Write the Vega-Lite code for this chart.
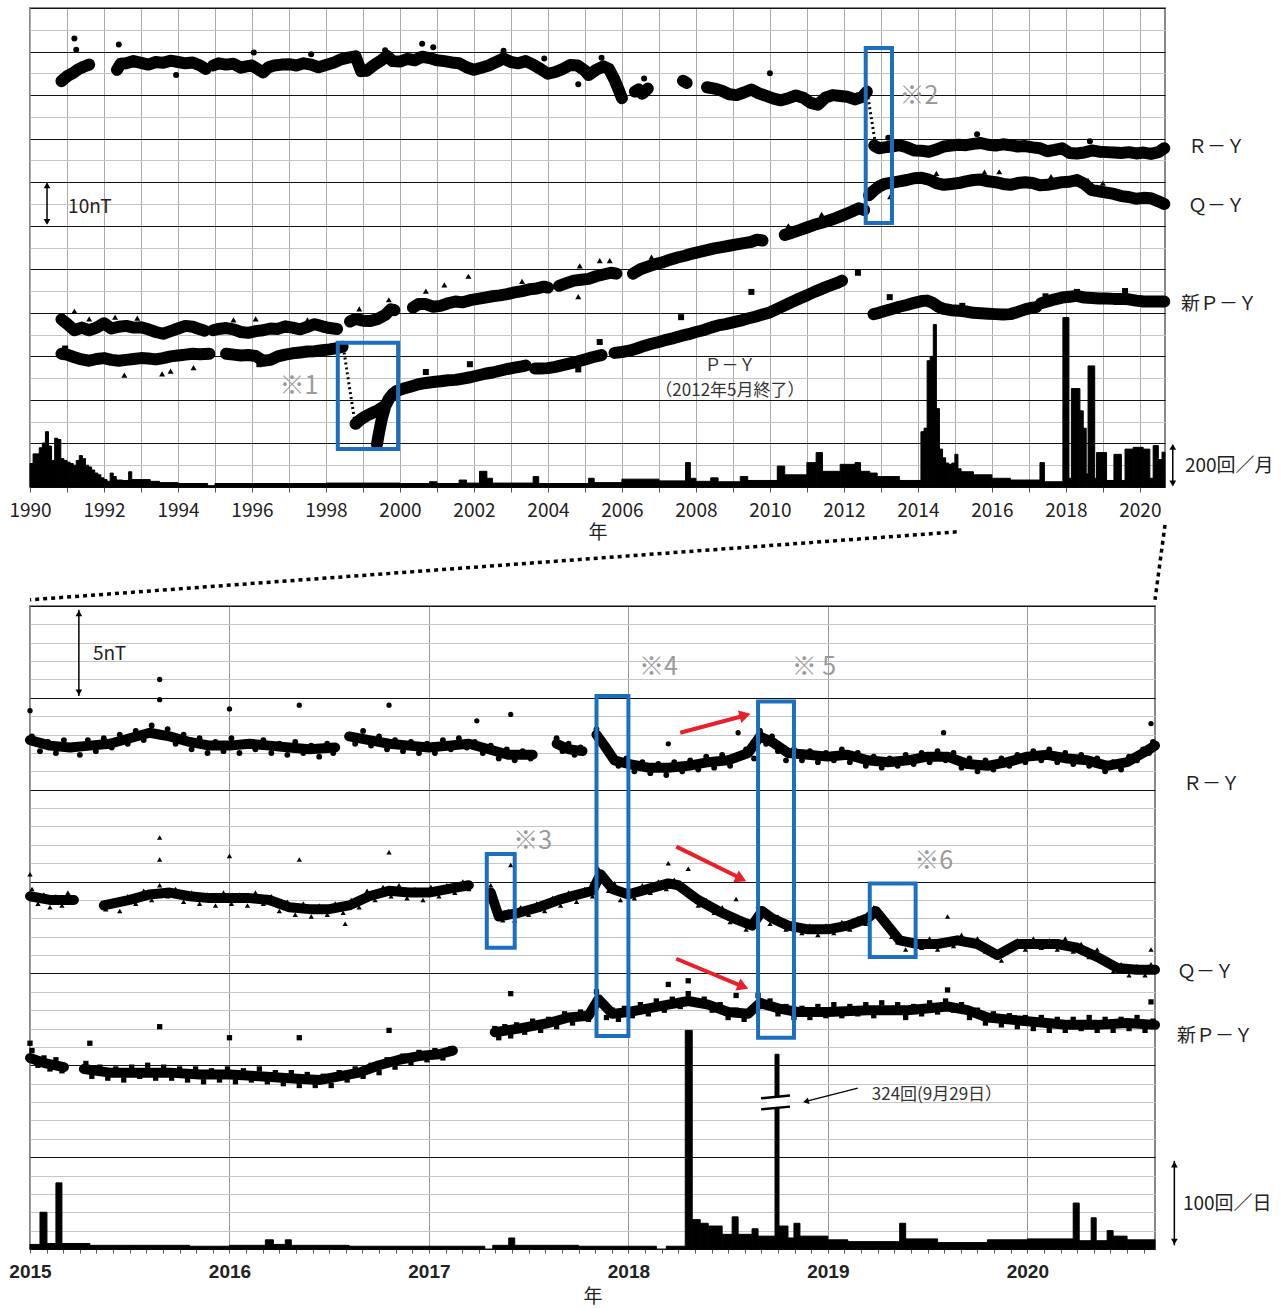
{
"$schema": "https://vega.github.io/schema/vega-lite/v6.json",
"background": "white",
"padding": {"left": 7, "top": 7, "right": 5, "bottom": 5},
"spacing": 2,
"config": {"view": {"stroke": "#888888", "strokeWidth": 2}, "font": "Noto Sans CJK JP", "axis": {"domain": false}},
"datasets": {
"tL": [
{"g":"R1","x":1990.85,"y":93.2},{"g":"R1","x":1991.0,"y":94.3},{"g":"R1","x":1991.15,"y":95.0},{"g":"R1","x":1991.3,"y":95.9},{"g":"R1","x":1991.45,"y":96.5},{"g":"R1","x":1991.6,"y":97.0},
{"g":"R2","x":1992.35,"y":95.8},{"g":"R2","x":1992.45,"y":97.2},{"g":"R2","x":1992.6,"y":97.3},{"g":"R2","x":1992.8,"y":97.8},{"g":"R2","x":1993.0,"y":97.4},{"g":"R2","x":1993.2,"y":97.0},{"g":"R2","x":1993.4,"y":97.6},{"g":"R2","x":1993.6,"y":97.4},{"g":"R2","x":1993.8,"y":97.9},{"g":"R2","x":1994.0,"y":97.6},{"g":"R2","x":1994.2,"y":97.3},{"g":"R2","x":1994.4,"y":97.5},{"g":"R2","x":1994.6,"y":96.8},{"g":"R2","x":1994.75,"y":96.0},
{"g":"R3","x":1994.95,"y":96.8},{"g":"R3","x":1995.1,"y":97.3},{"g":"R3","x":1995.3,"y":97.0},{"g":"R3","x":1995.5,"y":97.2},{"g":"R3","x":1995.7,"y":96.3},{"g":"R3","x":1995.85,"y":96.6},{"g":"R3","x":1996.0,"y":96.8},{"g":"R3","x":1996.15,"y":96.0},{"g":"R3","x":1996.3,"y":95.2},{"g":"R3","x":1996.45,"y":96.4},{"g":"R3","x":1996.6,"y":96.8},{"g":"R3","x":1996.8,"y":97.0},{"g":"R3","x":1997.0,"y":97.1},{"g":"R3","x":1997.2,"y":96.8},{"g":"R3","x":1997.4,"y":97.3},{"g":"R3","x":1997.6,"y":97.0},{"g":"R3","x":1997.8,"y":96.4},{"g":"R3","x":1998.0,"y":96.9},{"g":"R3","x":1998.2,"y":97.4},{"g":"R3","x":1998.4,"y":98.2},{"g":"R3","x":1998.6,"y":98.6},{"g":"R3","x":1998.8,"y":98.9},{"g":"R3","x":1998.95,"y":95.5},{"g":"R3","x":1999.1,"y":95.6},{"g":"R3","x":1999.3,"y":96.9},{"g":"R3","x":1999.5,"y":98.0},{"g":"R3","x":1999.65,"y":99.0},{"g":"R3","x":1999.8,"y":97.8},{"g":"R3","x":2000.0,"y":97.7},{"g":"R3","x":2000.2,"y":98.3},{"g":"R3","x":2000.4,"y":98.0},{"g":"R3","x":2000.6,"y":98.8},{"g":"R3","x":2000.8,"y":98.5},{"g":"R3","x":2001.0,"y":98.0},{"g":"R3","x":2001.2,"y":97.8},{"g":"R3","x":2001.4,"y":97.5},{"g":"R3","x":2001.6,"y":97.3},{"g":"R3","x":2001.8,"y":96.4},{"g":"R3","x":2002.0,"y":95.8},{"g":"R3","x":2002.2,"y":96.3},{"g":"R3","x":2002.4,"y":96.8},{"g":"R3","x":2002.6,"y":97.6},{"g":"R3","x":2002.8,"y":98.4},{"g":"R3","x":2003.0,"y":97.6},{"g":"R3","x":2003.2,"y":97.3},{"g":"R3","x":2003.4,"y":97.8},{"g":"R3","x":2003.6,"y":97.0},{"g":"R3","x":2003.8,"y":96.0},{"g":"R3","x":2004.0,"y":94.9},{"g":"R3","x":2004.2,"y":95.3},{"g":"R3","x":2004.4,"y":96.0},{"g":"R3","x":2004.6,"y":96.9},{"g":"R3","x":2004.8,"y":96.8},{"g":"R3","x":2005.0,"y":95.6},{"g":"R3","x":2005.1,"y":94.6},{"g":"R3","x":2005.3,"y":95.8},{"g":"R3","x":2005.5,"y":96.6},{"g":"R3","x":2005.65,"y":96.0},{"g":"R3","x":2005.8,"y":93.5},{"g":"R3","x":2005.9,"y":91.5},{"g":"R3","x":2006.0,"y":89.3},
{"g":"R4","x":2006.35,"y":90.8},{"g":"R4","x":2006.45,"y":91.3},{"g":"R4","x":2006.55,"y":90.3},{"g":"R4","x":2006.7,"y":91.5},
{"g":"R5","x":2007.65,"y":93.3},{"g":"R5","x":2007.75,"y":92.8},
{"g":"R6","x":2008.3,"y":91.8},{"g":"R6","x":2008.5,"y":91.5},{"g":"R6","x":2008.7,"y":91.0},{"g":"R6","x":2008.9,"y":90.2},{"g":"R6","x":2009.1,"y":90.0},{"g":"R6","x":2009.3,"y":90.6},{"g":"R6","x":2009.5,"y":91.3},{"g":"R6","x":2009.7,"y":90.4},{"g":"R6","x":2009.9,"y":89.8},{"g":"R6","x":2010.1,"y":89.2},{"g":"R6","x":2010.3,"y":88.8},{"g":"R6","x":2010.5,"y":89.3},{"g":"R6","x":2010.7,"y":89.9},{"g":"R6","x":2010.9,"y":89.4},{"g":"R6","x":2011.1,"y":88.2},{"g":"R6","x":2011.3,"y":87.8},{"g":"R6","x":2011.5,"y":89.4},{"g":"R6","x":2011.7,"y":90.0},{"g":"R6","x":2011.9,"y":89.8},{"g":"R6","x":2012.1,"y":89.6},{"g":"R6","x":2012.3,"y":89.0},{"g":"R6","x":2012.5,"y":89.6},{"g":"R6","x":2012.62,"y":90.8},
{"g":"R7","x":2012.82,"y":78.4},{"g":"R7","x":2012.95,"y":77.8},{"g":"R7","x":2013.1,"y":78.0},{"g":"R7","x":2013.3,"y":78.2},{"g":"R7","x":2013.5,"y":78.5},{"g":"R7","x":2013.7,"y":78.0},{"g":"R7","x":2013.9,"y":77.3},{"g":"R7","x":2014.1,"y":77.2},{"g":"R7","x":2014.3,"y":77.0},{"g":"R7","x":2014.5,"y":77.5},{"g":"R7","x":2014.7,"y":78.2},{"g":"R7","x":2014.9,"y":78.4},{"g":"R7","x":2015.1,"y":78.6},{"g":"R7","x":2015.3,"y":78.5},{"g":"R7","x":2015.5,"y":78.8},{"g":"R7","x":2015.7,"y":79.0},{"g":"R7","x":2015.9,"y":78.6},{"g":"R7","x":2016.1,"y":78.4},{"g":"R7","x":2016.3,"y":78.7},{"g":"R7","x":2016.5,"y":78.5},{"g":"R7","x":2016.7,"y":78.2},{"g":"R7","x":2016.9,"y":78.3},{"g":"R7","x":2017.1,"y":78.0},{"g":"R7","x":2017.3,"y":77.8},{"g":"R7","x":2017.5,"y":77.1},{"g":"R7","x":2017.7,"y":77.4},{"g":"R7","x":2017.9,"y":77.8},{"g":"R7","x":2018.1,"y":76.7},{"g":"R7","x":2018.3,"y":76.6},{"g":"R7","x":2018.5,"y":76.8},{"g":"R7","x":2018.7,"y":77.3},{"g":"R7","x":2018.9,"y":77.0},{"g":"R7","x":2019.1,"y":76.9},{"g":"R7","x":2019.3,"y":76.8},{"g":"R7","x":2019.5,"y":76.7},{"g":"R7","x":2019.7,"y":76.9},{"g":"R7","x":2019.9,"y":76.6},{"g":"R7","x":2020.1,"y":76.8},{"g":"R7","x":2020.3,"y":76.5},{"g":"R7","x":2020.5,"y":76.9},{"g":"R7","x":2020.66,"y":77.8},
{"g":"Q1","x":1990.85,"y":38.5},{"g":"Q1","x":1991.0,"y":37.5},{"g":"Q1","x":1991.2,"y":36.0},{"g":"Q1","x":1991.4,"y":36.6},{"g":"Q1","x":1991.6,"y":36.0},{"g":"Q1","x":1991.8,"y":36.6},{"g":"Q1","x":1992.0,"y":37.6},{"g":"Q1","x":1992.2,"y":36.4},{"g":"Q1","x":1992.4,"y":36.8},{"g":"Q1","x":1992.6,"y":37.0},{"g":"Q1","x":1992.8,"y":36.6},{"g":"Q1","x":1993.0,"y":36.7},{"g":"Q1","x":1993.2,"y":36.2},{"g":"Q1","x":1993.4,"y":35.6},{"g":"Q1","x":1993.6,"y":35.2},{"g":"Q1","x":1993.8,"y":35.8},{"g":"Q1","x":1994.0,"y":36.4},{"g":"Q1","x":1994.2,"y":37.0},{"g":"Q1","x":1994.4,"y":36.8},{"g":"Q1","x":1994.6,"y":36.2},{"g":"Q1","x":1994.72,"y":35.9},
{"g":"Q2","x":1994.95,"y":36.0},{"g":"Q2","x":1995.1,"y":36.3},{"g":"Q2","x":1995.3,"y":36.5},{"g":"Q2","x":1995.5,"y":36.2},{"g":"Q2","x":1995.7,"y":35.6},{"g":"Q2","x":1995.9,"y":35.4},{"g":"Q2","x":1996.1,"y":35.8},{"g":"Q2","x":1996.3,"y":36.0},{"g":"Q2","x":1996.5,"y":36.4},{"g":"Q2","x":1996.7,"y":36.3},{"g":"Q2","x":1996.9,"y":36.9},{"g":"Q2","x":1997.1,"y":36.6},{"g":"Q2","x":1997.3,"y":36.2},{"g":"Q2","x":1997.5,"y":36.8},{"g":"Q2","x":1997.7,"y":37.4},{"g":"Q2","x":1997.9,"y":36.9},{"g":"Q2","x":1998.1,"y":36.5},{"g":"Q2","x":1998.3,"y":36.3},
{"g":"Q3","x":1998.65,"y":38.0},{"g":"Q3","x":1998.8,"y":38.6},{"g":"Q3","x":1999.0,"y":38.2},{"g":"Q3","x":1999.2,"y":38.1},{"g":"Q3","x":1999.4,"y":38.6},{"g":"Q3","x":1999.6,"y":39.5},{"g":"Q3","x":1999.75,"y":40.8},{"g":"Q3","x":1999.85,"y":40.6},
{"g":"Q4","x":2000.35,"y":41.2},{"g":"Q4","x":2000.5,"y":42.0},{"g":"Q4","x":2000.7,"y":42.0},{"g":"Q4","x":2000.9,"y":41.4},{"g":"Q4","x":2001.1,"y":41.6},{"g":"Q4","x":2001.3,"y":42.2},{"g":"Q4","x":2001.5,"y":42.6},{"g":"Q4","x":2001.7,"y":42.4},{"g":"Q4","x":2001.9,"y":42.9},{"g":"Q4","x":2002.1,"y":43.2},{"g":"Q4","x":2002.3,"y":43.5},{"g":"Q4","x":2002.5,"y":43.8},{"g":"Q4","x":2002.7,"y":44.0},{"g":"Q4","x":2002.9,"y":44.3},{"g":"Q4","x":2003.1,"y":44.7},{"g":"Q4","x":2003.3,"y":45.0},{"g":"Q4","x":2003.5,"y":45.4},{"g":"Q4","x":2003.7,"y":45.6},{"g":"Q4","x":2003.9,"y":46.0},{"g":"Q4","x":2004.0,"y":45.8},
{"g":"Q5","x":2004.3,"y":46.2},{"g":"Q5","x":2004.5,"y":46.8},{"g":"Q5","x":2004.7,"y":47.4},{"g":"Q5","x":2004.9,"y":47.6},{"g":"Q5","x":2005.1,"y":47.8},{"g":"Q5","x":2005.3,"y":48.4},{"g":"Q5","x":2005.5,"y":48.8},{"g":"Q5","x":2005.7,"y":49.2},{"g":"Q5","x":2005.85,"y":49.0},
{"g":"Q6","x":2006.3,"y":49.0},{"g":"Q6","x":2006.5,"y":50.0},{"g":"Q6","x":2006.7,"y":50.6},{"g":"Q6","x":2006.9,"y":51.2},{"g":"Q6","x":2007.1,"y":51.6},{"g":"Q6","x":2007.3,"y":52.2},{"g":"Q6","x":2007.5,"y":52.7},{"g":"Q6","x":2007.7,"y":53.1},{"g":"Q6","x":2007.9,"y":53.6},{"g":"Q6","x":2008.1,"y":54.0},{"g":"Q6","x":2008.3,"y":54.4},{"g":"Q6","x":2008.5,"y":54.8},{"g":"Q6","x":2008.7,"y":55.1},{"g":"Q6","x":2008.9,"y":55.4},{"g":"Q6","x":2009.1,"y":55.7},{"g":"Q6","x":2009.3,"y":56.0},{"g":"Q6","x":2009.5,"y":56.3},{"g":"Q6","x":2009.65,"y":56.8},{"g":"Q6","x":2009.8,"y":56.6},
{"g":"Q7","x":2010.4,"y":57.9},{"g":"Q7","x":2010.6,"y":58.4},{"g":"Q7","x":2010.8,"y":59.0},{"g":"Q7","x":2011.0,"y":59.6},{"g":"Q7","x":2011.2,"y":60.2},{"g":"Q7","x":2011.4,"y":60.7},{"g":"Q7","x":2011.6,"y":61.2},{"g":"Q7","x":2011.8,"y":61.8},{"g":"Q7","x":2012.0,"y":62.5},{"g":"Q7","x":2012.2,"y":63.2},{"g":"Q7","x":2012.4,"y":64.0},{"g":"Q7","x":2012.55,"y":63.6},
{"g":"Q8","x":2012.68,"y":67.0},{"g":"Q8","x":2012.8,"y":68.0},{"g":"Q8","x":2012.95,"y":69.0},{"g":"Q8","x":2013.1,"y":69.6},{"g":"Q8","x":2013.3,"y":69.9},{"g":"Q8","x":2013.5,"y":70.2},{"g":"Q8","x":2013.7,"y":70.5},{"g":"Q8","x":2013.9,"y":70.9},{"g":"Q8","x":2014.1,"y":71.0},{"g":"Q8","x":2014.3,"y":70.6},{"g":"Q8","x":2014.5,"y":69.8},{"g":"Q8","x":2014.7,"y":69.4},{"g":"Q8","x":2014.9,"y":69.6},{"g":"Q8","x":2015.1,"y":69.8},{"g":"Q8","x":2015.3,"y":70.2},{"g":"Q8","x":2015.5,"y":70.5},{"g":"Q8","x":2015.7,"y":70.6},{"g":"Q8","x":2015.9,"y":70.2},{"g":"Q8","x":2016.1,"y":70.0},{"g":"Q8","x":2016.3,"y":69.6},{"g":"Q8","x":2016.5,"y":69.4},{"g":"Q8","x":2016.7,"y":69.8},{"g":"Q8","x":2016.9,"y":70.0},{"g":"Q8","x":2017.1,"y":69.8},{"g":"Q8","x":2017.3,"y":69.3},{"g":"Q8","x":2017.5,"y":69.4},{"g":"Q8","x":2017.7,"y":69.7},{"g":"Q8","x":2017.9,"y":70.0},{"g":"Q8","x":2018.1,"y":70.1},{"g":"Q8","x":2018.3,"y":70.5},{"g":"Q8","x":2018.5,"y":69.6},{"g":"Q8","x":2018.7,"y":68.2},{"g":"Q8","x":2018.9,"y":67.9},{"g":"Q8","x":2019.1,"y":67.6},{"g":"Q8","x":2019.3,"y":67.3},{"g":"Q8","x":2019.5,"y":66.8},{"g":"Q8","x":2019.7,"y":66.6},{"g":"Q8","x":2019.9,"y":66.2},{"g":"Q8","x":2020.1,"y":66.4},{"g":"Q8","x":2020.3,"y":66.3},{"g":"Q8","x":2020.5,"y":65.6},{"g":"Q8","x":2020.66,"y":65.0},
{"g":"P1","x":1990.85,"y":30.6},{"g":"P1","x":1991.0,"y":30.4},{"g":"P1","x":1991.2,"y":29.8},{"g":"P1","x":1991.4,"y":29.3},{"g":"P1","x":1991.6,"y":29.0},{"g":"P1","x":1991.8,"y":29.4},{"g":"P1","x":1992.0,"y":29.6},{"g":"P1","x":1992.2,"y":29.2},{"g":"P1","x":1992.4,"y":29.0},{"g":"P1","x":1992.6,"y":29.2},{"g":"P1","x":1992.8,"y":29.4},{"g":"P1","x":1993.0,"y":29.6},{"g":"P1","x":1993.2,"y":29.5},{"g":"P1","x":1993.4,"y":29.3},{"g":"P1","x":1993.6,"y":29.6},{"g":"P1","x":1993.8,"y":30.0},{"g":"P1","x":1994.0,"y":30.2},{"g":"P1","x":1994.2,"y":30.4},{"g":"P1","x":1994.4,"y":30.6},{"g":"P1","x":1994.6,"y":30.5},{"g":"P1","x":1994.85,"y":30.6},
{"g":"P2","x":1995.3,"y":30.6},{"g":"P2","x":1995.5,"y":30.4},{"g":"P2","x":1995.7,"y":30.2},{"g":"P2","x":1995.9,"y":30.3},{"g":"P2","x":1996.1,"y":30.1},{"g":"P2","x":1996.3,"y":29.0},{"g":"P2","x":1996.5,"y":29.2},{"g":"P2","x":1996.7,"y":30.0},{"g":"P2","x":1996.9,"y":30.4},{"g":"P2","x":1997.1,"y":30.7},{"g":"P2","x":1997.3,"y":30.9},{"g":"P2","x":1997.5,"y":31.1},{"g":"P2","x":1997.7,"y":31.2},{"g":"P2","x":1997.9,"y":31.4},{"g":"P2","x":1998.1,"y":31.6},{"g":"P2","x":1998.3,"y":31.9},{"g":"P2","x":1998.45,"y":32.2},
{"g":"P3","x":1998.8,"y":14.5},{"g":"P3","x":1998.95,"y":15.6},{"g":"P3","x":1999.1,"y":16.4},{"g":"P3","x":1999.25,"y":17.0},{"g":"P3","x":1999.4,"y":17.6},{"g":"P3","x":1999.55,"y":18.4},
{"g":"P4","x":1999.38,"y":9.8},{"g":"P4","x":1999.42,"y":11.8},{"g":"P4","x":1999.46,"y":13.6},{"g":"P4","x":1999.52,"y":16.0},{"g":"P4","x":1999.6,"y":18.5},{"g":"P4","x":1999.7,"y":20.2},{"g":"P4","x":1999.8,"y":21.3},{"g":"P4","x":1999.9,"y":22.0},{"g":"P4","x":2000.1,"y":22.6},{"g":"P4","x":2000.3,"y":23.1},{"g":"P4","x":2000.5,"y":23.6},{"g":"P4","x":2000.7,"y":23.9},{"g":"P4","x":2000.9,"y":24.1},{"g":"P4","x":2001.1,"y":24.3},{"g":"P4","x":2001.3,"y":24.5},{"g":"P4","x":2001.5,"y":24.6},{"g":"P4","x":2001.7,"y":24.9},{"g":"P4","x":2001.9,"y":25.2},{"g":"P4","x":2002.1,"y":25.6},{"g":"P4","x":2002.3,"y":26.0},{"g":"P4","x":2002.5,"y":26.3},{"g":"P4","x":2002.7,"y":26.7},{"g":"P4","x":2002.9,"y":27.1},{"g":"P4","x":2003.1,"y":27.4},{"g":"P4","x":2003.3,"y":27.7},{"g":"P4","x":2003.4,"y":27.9},
{"g":"P5","x":2003.65,"y":27.2},{"g":"P5","x":2003.8,"y":27.2},{"g":"P5","x":2004.0,"y":27.3},{"g":"P5","x":2004.2,"y":27.6},{"g":"P5","x":2004.4,"y":28.0},{"g":"P5","x":2004.6,"y":28.4},{"g":"P5","x":2004.8,"y":28.8},{"g":"P5","x":2005.0,"y":29.3},{"g":"P5","x":2005.2,"y":29.8},{"g":"P5","x":2005.45,"y":30.3},
{"g":"P6","x":2005.8,"y":30.8},{"g":"P6","x":2006.0,"y":31.0},{"g":"P6","x":2006.2,"y":31.3},{"g":"P6","x":2006.4,"y":31.8},{"g":"P6","x":2006.6,"y":32.4},{"g":"P6","x":2006.8,"y":32.9},{"g":"P6","x":2007.0,"y":33.3},{"g":"P6","x":2007.2,"y":33.8},{"g":"P6","x":2007.4,"y":34.2},{"g":"P6","x":2007.6,"y":34.7},{"g":"P6","x":2007.8,"y":35.1},{"g":"P6","x":2008.0,"y":35.6},{"g":"P6","x":2008.2,"y":36.0},{"g":"P6","x":2008.4,"y":36.6},{"g":"P6","x":2008.6,"y":37.1},{"g":"P6","x":2008.8,"y":37.4},{"g":"P6","x":2009.0,"y":37.8},{"g":"P6","x":2009.2,"y":38.2},{"g":"P6","x":2009.4,"y":38.7},{"g":"P6","x":2009.6,"y":39.1},{"g":"P6","x":2009.8,"y":39.6},{"g":"P6","x":2010.0,"y":40.1},{"g":"P6","x":2010.2,"y":40.9},{"g":"P6","x":2010.4,"y":41.7},{"g":"P6","x":2010.6,"y":42.5},{"g":"P6","x":2010.8,"y":43.3},{"g":"P6","x":2011.0,"y":44.0},{"g":"P6","x":2011.2,"y":44.8},{"g":"P6","x":2011.4,"y":45.5},{"g":"P6","x":2011.6,"y":46.2},{"g":"P6","x":2011.8,"y":46.8},{"g":"P6","x":2011.95,"y":47.4},
{"g":"N1","x":2012.8,"y":39.7},{"g":"N1","x":2012.95,"y":40.0},{"g":"N1","x":2013.1,"y":40.4},{"g":"N1","x":2013.3,"y":40.9},{"g":"N1","x":2013.5,"y":41.4},{"g":"N1","x":2013.7,"y":41.8},{"g":"N1","x":2013.9,"y":42.3},{"g":"N1","x":2014.1,"y":42.7},{"g":"N1","x":2014.25,"y":42.8},{"g":"N1","x":2014.4,"y":42.3},{"g":"N1","x":2014.55,"y":41.4},{"g":"N1","x":2014.7,"y":40.9},{"g":"N1","x":2014.9,"y":40.6},{"g":"N1","x":2015.1,"y":40.5},{"g":"N1","x":2015.3,"y":40.3},{"g":"N1","x":2015.5,"y":40.0},{"g":"N1","x":2015.7,"y":39.9},{"g":"N1","x":2015.9,"y":39.8},{"g":"N1","x":2016.1,"y":39.7},{"g":"N1","x":2016.3,"y":39.6},{"g":"N1","x":2016.5,"y":39.7},{"g":"N1","x":2016.7,"y":40.2},{"g":"N1","x":2016.9,"y":40.8},{"g":"N1","x":2017.1,"y":41.2},{"g":"N1","x":2017.2,"y":41.3},
{"g":"N2","x":2017.33,"y":42.2},{"g":"N2","x":2017.5,"y":42.6},{"g":"N2","x":2017.7,"y":43.1},{"g":"N2","x":2017.9,"y":43.5},{"g":"N2","x":2018.1,"y":43.7},{"g":"N2","x":2018.3,"y":43.9},{"g":"N2","x":2018.5,"y":43.5},{"g":"N2","x":2018.7,"y":43.4},{"g":"N2","x":2018.9,"y":43.3},{"g":"N2","x":2019.1,"y":43.3},{"g":"N2","x":2019.3,"y":43.2},{"g":"N2","x":2019.5,"y":43.2},{"g":"N2","x":2019.7,"y":43.1},{"g":"N2","x":2019.9,"y":42.8},{"g":"N2","x":2020.1,"y":42.6},{"g":"N2","x":2020.3,"y":42.6},{"g":"N2","x":2020.5,"y":42.6},{"g":"N2","x":2020.66,"y":42.6}
],
"tO": [
{"s":"R","x":1991.2,"y":103.0},{"s":"R","x":1991.25,"y":100.4},{"s":"R","x":1992.4,"y":101.6},{"s":"R","x":1993.95,"y":94.6},{"s":"R","x":1996.05,"y":99.8},{"s":"R","x":1997.6,"y":99.4},{"s":"R","x":1999.6,"y":100.3},{"s":"R","x":2000.6,"y":101.8},{"s":"R","x":2000.9,"y":101.0},{"s":"R","x":2002.8,"y":100.2},{"s":"R","x":2003.9,"y":98.4},{"s":"R","x":2004.82,"y":92.5},{"s":"R","x":2005.45,"y":98.6},{"s":"R","x":2006.6,"y":93.8},{"s":"R","x":2010.0,"y":95.0},{"s":"R","x":2013.2,"y":80.2},{"s":"R","x":2015.6,"y":81.0},{"s":"R","x":2018.65,"y":79.4},
{"s":"Q","x":1991.2,"y":40.4},{"s":"Q","x":1991.6,"y":38.6},{"s":"Q","x":1992.3,"y":39.0},{"s":"Q","x":1992.9,"y":38.8},{"s":"Q","x":1992.55,"y":25.7},{"s":"Q","x":1993.57,"y":26.0},{"s":"Q","x":1993.8,"y":26.6},{"s":"Q","x":1994.42,"y":27.4},{"s":"Q","x":1995.5,"y":38.4},{"s":"Q","x":1996.1,"y":38.6},{"s":"Q","x":1997.5,"y":38.4},{"s":"Q","x":1998.9,"y":40.9},{"s":"Q","x":1999.7,"y":43.0},{"s":"Q","x":2000.7,"y":45.0},{"s":"Q","x":2001.2,"y":46.4},{"s":"Q","x":2001.85,"y":48.4},{"s":"Q","x":2003.3,"y":47.2},{"s":"Q","x":2004.86,"y":50.8},{"s":"Q","x":2004.82,"y":43.7},{"s":"Q","x":2005.4,"y":52.0},{"s":"Q","x":2005.67,"y":52.0},{"s":"Q","x":2006.8,"y":52.8},{"s":"Q","x":2010.5,"y":60.0},{"s":"Q","x":2011.4,"y":62.6},{"s":"Q","x":2013.25,"y":66.7},{"s":"Q","x":2014.5,"y":72.0},{"s":"Q","x":2015.8,"y":72.3},{"s":"Q","x":2016.2,"y":72.4},{"s":"Q","x":2017.6,"y":71.3},{"s":"Q","x":2018.6,"y":70.4},{"s":"Q","x":2019.0,"y":69.8},
{"s":"P","x":1990.95,"y":31.8},{"s":"P","x":1996.2,"y":28.2},{"s":"P","x":2000.7,"y":26.4},{"s":"P","x":2001.89,"y":28.2},{"s":"P","x":2004.82,"y":27.0},{"s":"P","x":2005.4,"y":33.3},{"s":"P","x":2007.6,"y":39.0},{"s":"P","x":2009.5,"y":44.8},{"s":"P","x":2012.38,"y":49.2},
{"s":"N","x":2013.24,"y":43.6},{"s":"N","x":2015.2,"y":41.6},{"s":"N","x":2017.45,"y":43.8},{"s":"N","x":2018.3,"y":44.8},{"s":"N","x":2019.6,"y":45.0}
],
"tC": [
{"a":1990.0,"b":1990.083,"c":108},{"a":1990.083,"b":1990.167,"c":152},{"a":1990.167,"b":1990.25,"c":152},{"a":1990.25,"b":1990.333,"c":180},{"a":1990.333,"b":1990.417,"c":202},{"a":1990.417,"b":1990.5,"c":254},{"a":1990.5,"b":1990.583,"c":188},{"a":1990.583,"b":1990.667,"c":122},{"a":1990.667,"b":1990.75,"c":224},{"a":1990.75,"b":1990.833,"c":218},{"a":1990.833,"b":1990.917,"c":130},{"a":1990.917,"b":1991.0,"c":122},
{"a":1991.0,"b":1991.083,"c":114},{"a":1991.083,"b":1991.167,"c":108},{"a":1991.167,"b":1991.25,"c":100},{"a":1991.25,"b":1991.333,"c":122},{"a":1991.333,"b":1991.417,"c":144},{"a":1991.417,"b":1991.5,"c":130},{"a":1991.5,"b":1991.583,"c":100},{"a":1991.583,"b":1991.667,"c":92},{"a":1991.667,"b":1991.75,"c":78},{"a":1991.75,"b":1991.833,"c":64},{"a":1991.833,"b":1991.917,"c":56},{"a":1991.917,"b":1992.0,"c":42},
{"a":1992.0,"b":1992.083,"c":34},{"a":1992.083,"b":1992.167,"c":26},{"a":1992.167,"b":1992.25,"c":64},{"a":1992.25,"b":1992.333,"c":48},{"a":1992.333,"b":1992.5,"c":32},{"a":1992.5,"b":1992.667,"c":30},{"a":1992.667,"b":1992.75,"c":70},{"a":1992.75,"b":1993.0,"c":34},{"a":1993.0,"b":1993.25,"c":34},{"a":1993.25,"b":1993.5,"c":26},
{"a":1993.5,"b":1994.0,"c":20},{"a":1994.0,"b":1994.8,"c":16},{"a":1994.8,"b":1995.0,"c":6},{"a":1995.0,"b":1996.0,"c":16},{"a":1996.0,"b":1997.0,"c":16},{"a":1997.0,"b":1998.0,"c":16},{"a":1998.0,"b":1999.0,"c":18},{"a":1999.0,"b":2000.0,"c":18},{"a":2000.0,"b":2000.8,"c":16},{"a":2000.8,"b":2001.0,"c":24},{"a":2001.0,"b":2001.6,"c":16},{"a":2001.6,"b":2001.8,"c":32},{"a":2001.8,"b":2002.15,"c":18},{"a":2002.15,"b":2002.35,"c":72},{"a":2002.35,"b":2002.5,"c":40},{"a":2002.5,"b":2003.6,"c":18},{"a":2003.6,"b":2003.75,"c":48},{"a":2003.75,"b":2005.1,"c":16},{"a":2005.1,"b":2005.25,"c":40},{"a":2005.25,"b":2006.0,"c":20},{"a":2006.0,"b":2007.0,"c":36},{"a":2007.0,"b":2007.72,"c":28},{"a":2007.72,"b":2007.85,"c":112},{"a":2007.85,"b":2008.0,"c":40},{"a":2008.0,"b":2008.4,"c":26},{"a":2008.4,"b":2008.6,"c":42},{"a":2008.6,"b":2009.2,"c":24},{"a":2009.2,"b":2009.4,"c":48},{"a":2009.4,"b":2010.2,"c":30},{"a":2010.2,"b":2010.4,"c":96},{"a":2010.4,"b":2011.0,"c":56},{"a":2011.0,"b":2011.25,"c":112},{"a":2011.25,"b":2011.42,"c":158},{"a":2011.42,"b":2011.9,"c":72},{"a":2011.9,"b":2012.3,"c":104},{"a":2012.3,"b":2012.45,"c":112},{"a":2012.45,"b":2012.7,"c":72},{"a":2012.7,"b":2012.9,"c":64},{"a":2012.9,"b":2013.5,"c":48},{"a":2013.5,"b":2014.083,"c":30},
{"a":2014.083,"b":2014.167,"c":254},{"a":2014.167,"b":2014.25,"c":270},{"a":2014.25,"b":2014.333,"c":580},{"a":2014.333,"b":2014.417,"c":600},{"a":2014.417,"b":2014.5,"c":746},{"a":2014.5,"b":2014.583,"c":360},{"a":2014.583,"b":2014.667,"c":174},{"a":2014.667,"b":2014.75,"c":134},{"a":2014.75,"b":2014.833,"c":110},{"a":2014.833,"b":2014.917,"c":104},{"a":2014.917,"b":2015.0,"c":110},{"a":2015.0,"b":2015.083,"c":150},{"a":2015.083,"b":2015.167,"c":84},{"a":2015.167,"b":2015.5,"c":70},{"a":2015.5,"b":2016.0,"c":56},{"a":2016.0,"b":2016.5,"c":40},{"a":2016.5,"b":2017.3,"c":32},{"a":2017.3,"b":2017.42,"c":112},{"a":2017.42,"b":2017.92,"c":24},
{"a":2017.92,"b":2018.083,"c":778},{"a":2018.083,"b":2018.15,"c":40},{"a":2018.15,"b":2018.38,"c":452},{"a":2018.38,"b":2018.47,"c":350},{"a":2018.47,"b":2018.55,"c":270},{"a":2018.55,"b":2018.6,"c":60},{"a":2018.6,"b":2018.78,"c":556},{"a":2018.78,"b":2018.83,"c":40},{"a":2018.83,"b":2019.1,"c":158},{"a":2019.1,"b":2019.3,"c":30},{"a":2019.3,"b":2019.5,"c":150},{"a":2019.5,"b":2019.6,"c":30},{"a":2019.6,"b":2019.82,"c":174},{"a":2019.82,"b":2020.09,"c":182},{"a":2020.09,"b":2020.27,"c":174},{"a":2020.27,"b":2020.36,"c":40},{"a":2020.36,"b":2020.5,"c":190},{"a":2020.5,"b":2020.6,"c":126},{"a":2020.6,"b":2020.68,"c":160}
],
"bL": [
{"g":"R1","x":2015.0,"y":27.7},{"g":"R1","x":2015.1,"y":27.4},{"g":"R1","x":2015.2,"y":27.3},{"g":"R1","x":2015.3,"y":27.4},{"g":"R1","x":2015.4,"y":27.5},{"g":"R1","x":2015.5,"y":27.8},{"g":"R1","x":2015.6,"y":28.1},{"g":"R1","x":2015.7,"y":27.9},{"g":"R1","x":2015.8,"y":27.6},{"g":"R1","x":2015.9,"y":27.4},{"g":"R1","x":2016.0,"y":27.4},{"g":"R1","x":2016.1,"y":27.5},{"g":"R1","x":2016.2,"y":27.4},{"g":"R1","x":2016.3,"y":27.3},{"g":"R1","x":2016.4,"y":27.2},{"g":"R1","x":2016.53,"y":27.3},
{"g":"R2","x":2016.6,"y":27.9},{"g":"R2","x":2016.7,"y":27.7},{"g":"R2","x":2016.8,"y":27.5},{"g":"R2","x":2016.9,"y":27.4},{"g":"R2","x":2017.0,"y":27.3},{"g":"R2","x":2017.1,"y":27.4},{"g":"R2","x":2017.2,"y":27.5},{"g":"R2","x":2017.3,"y":27.2},{"g":"R2","x":2017.4,"y":26.9},{"g":"R2","x":2017.52,"y":26.9},
{"g":"R3","x":2017.64,"y":27.5},{"g":"R3","x":2017.7,"y":27.2},{"g":"R3","x":2017.77,"y":27.1},
{"g":"R4","x":2017.84,"y":28.0},{"g":"R4","x":2017.88,"y":27.4},{"g":"R4","x":2017.93,"y":26.6},{"g":"R4","x":2018.0,"y":26.4},{"g":"R4","x":2018.1,"y":26.2},{"g":"R4","x":2018.2,"y":26.2},{"g":"R4","x":2018.3,"y":26.3},{"g":"R4","x":2018.4,"y":26.5},{"g":"R4","x":2018.5,"y":26.6},{"g":"R4","x":2018.6,"y":27.0},{"g":"R4","x":2018.66,"y":27.9},{"g":"R4","x":2018.72,"y":27.6},{"g":"R4","x":2018.8,"y":27.0},{"g":"R4","x":2018.9,"y":26.9},{"g":"R4","x":2019.0,"y":26.8},{"g":"R4","x":2019.1,"y":26.9},{"g":"R4","x":2019.2,"y":26.6},{"g":"R4","x":2019.3,"y":26.5},{"g":"R4","x":2019.4,"y":26.6},{"g":"R4","x":2019.5,"y":26.8},{"g":"R4","x":2019.6,"y":26.8},{"g":"R4","x":2019.7,"y":26.4},{"g":"R4","x":2019.8,"y":26.3},{"g":"R4","x":2019.9,"y":26.5},{"g":"R4","x":2020.0,"y":26.8},{"g":"R4","x":2020.1,"y":26.9},{"g":"R4","x":2020.2,"y":26.7},{"g":"R4","x":2020.3,"y":26.6},{"g":"R4","x":2020.4,"y":26.3},{"g":"R4","x":2020.5,"y":26.5},{"g":"R4","x":2020.58,"y":27.0},{"g":"R4","x":2020.64,"y":27.4},
{"g":"Q1","x":2015.0,"y":19.2},{"g":"Q1","x":2015.1,"y":19.0},{"g":"Q1","x":2015.22,"y":19.0},
{"g":"Q2","x":2015.37,"y":18.7},{"g":"Q2","x":2015.5,"y":19.0},{"g":"Q2","x":2015.6,"y":19.3},{"g":"Q2","x":2015.7,"y":19.4},{"g":"Q2","x":2015.8,"y":19.2},{"g":"Q2","x":2015.9,"y":19.1},{"g":"Q2","x":2016.0,"y":19.1},{"g":"Q2","x":2016.1,"y":19.1},{"g":"Q2","x":2016.2,"y":19.0},{"g":"Q2","x":2016.3,"y":18.6},{"g":"Q2","x":2016.4,"y":18.5},{"g":"Q2","x":2016.5,"y":18.5},{"g":"Q2","x":2016.6,"y":18.7},{"g":"Q2","x":2016.7,"y":19.2},{"g":"Q2","x":2016.8,"y":19.5},{"g":"Q2","x":2016.9,"y":19.4},{"g":"Q2","x":2017.0,"y":19.4},{"g":"Q2","x":2017.1,"y":19.6},{"g":"Q2","x":2017.2,"y":19.8},
{"g":"Q3","x":2017.31,"y":19.4},{"g":"Q3","x":2017.35,"y":18.1},{"g":"Q3","x":2017.45,"y":18.3},{"g":"Q3","x":2017.55,"y":18.6},{"g":"Q3","x":2017.65,"y":19.0},{"g":"Q3","x":2017.75,"y":19.3},{"g":"Q3","x":2017.82,"y":19.5},{"g":"Q3","x":2017.86,"y":20.4},{"g":"Q3","x":2017.92,"y":19.6},{"g":"Q3","x":2018.0,"y":19.3},{"g":"Q3","x":2018.1,"y":19.6},{"g":"Q3","x":2018.2,"y":19.9},{"g":"Q3","x":2018.25,"y":19.8},{"g":"Q3","x":2018.35,"y":19.0},{"g":"Q3","x":2018.45,"y":18.4},{"g":"Q3","x":2018.55,"y":17.9},{"g":"Q3","x":2018.62,"y":17.6},{"g":"Q3","x":2018.67,"y":18.4},{"g":"Q3","x":2018.72,"y":18.0},{"g":"Q3","x":2018.8,"y":17.6},{"g":"Q3","x":2018.9,"y":17.4},{"g":"Q3","x":2019.0,"y":17.4},{"g":"Q3","x":2019.1,"y":17.6},{"g":"Q3","x":2019.2,"y":18.0},{"g":"Q3","x":2019.24,"y":18.4},{"g":"Q3","x":2019.3,"y":17.6},{"g":"Q3","x":2019.36,"y":16.8},{"g":"Q3","x":2019.45,"y":16.6},{"g":"Q3","x":2019.55,"y":16.6},{"g":"Q3","x":2019.65,"y":16.8},{"g":"Q3","x":2019.75,"y":16.6},{"g":"Q3","x":2019.85,"y":16.0},{"g":"Q3","x":2019.95,"y":16.6},{"g":"Q3","x":2020.05,"y":16.6},{"g":"Q3","x":2020.15,"y":16.6},{"g":"Q3","x":2020.25,"y":16.4},{"g":"Q3","x":2020.35,"y":15.9},{"g":"Q3","x":2020.45,"y":15.3},{"g":"Q3","x":2020.55,"y":15.2},{"g":"Q3","x":2020.64,"y":15.2},
{"g":"P1","x":2015.0,"y":10.4},{"g":"P1","x":2015.08,"y":10.1},{"g":"P1","x":2015.17,"y":9.9},
{"g":"P2","x":2015.27,"y":9.8},{"g":"P2","x":2015.4,"y":9.6},{"g":"P2","x":2015.55,"y":9.6},{"g":"P2","x":2015.7,"y":9.6},{"g":"P2","x":2015.85,"y":9.5},{"g":"P2","x":2016.0,"y":9.5},{"g":"P2","x":2016.15,"y":9.4},{"g":"P2","x":2016.3,"y":9.3},{"g":"P2","x":2016.45,"y":9.2},{"g":"P2","x":2016.55,"y":9.4},{"g":"P2","x":2016.65,"y":9.6},{"g":"P2","x":2016.75,"y":10.0},{"g":"P2","x":2016.85,"y":10.3},{"g":"P2","x":2016.95,"y":10.5},{"g":"P2","x":2017.05,"y":10.6},{"g":"P2","x":2017.12,"y":10.8},
{"g":"P3","x":2017.33,"y":11.8},{"g":"P3","x":2017.45,"y":12.0},{"g":"P3","x":2017.6,"y":12.3},{"g":"P3","x":2017.7,"y":12.6},{"g":"P3","x":2017.8,"y":12.7},{"g":"P3","x":2017.85,"y":13.6},{"g":"P3","x":2017.92,"y":12.8},{"g":"P3","x":2018.0,"y":12.9},{"g":"P3","x":2018.1,"y":13.1},{"g":"P3","x":2018.2,"y":13.3},{"g":"P3","x":2018.3,"y":13.5},{"g":"P3","x":2018.4,"y":13.3},{"g":"P3","x":2018.5,"y":12.9},{"g":"P3","x":2018.6,"y":12.8},{"g":"P3","x":2018.66,"y":13.4},{"g":"P3","x":2018.75,"y":13.1},{"g":"P3","x":2018.85,"y":12.9},{"g":"P3","x":2019.0,"y":12.9},{"g":"P3","x":2019.2,"y":13.0},{"g":"P3","x":2019.4,"y":13.0},{"g":"P3","x":2019.6,"y":13.2},{"g":"P3","x":2019.7,"y":13.0},{"g":"P3","x":2019.8,"y":12.6},{"g":"P3","x":2019.9,"y":12.5},{"g":"P3","x":2020.0,"y":12.4},{"g":"P3","x":2020.1,"y":12.3},{"g":"P3","x":2020.2,"y":12.2},{"g":"P3","x":2020.35,"y":12.2},{"g":"P3","x":2020.5,"y":12.3},{"g":"P3","x":2020.64,"y":12.2}
],
"bR": [
{"x":2015.01,"y":27.9},{"x":2015.05,"y":27.1},{"x":2015.09,"y":27.6},{"x":2015.13,"y":27.0},{"x":2015.17,"y":27.7},{"x":2015.21,"y":27.2},{"x":2015.25,"y":26.9},{"x":2015.29,"y":27.7},{"x":2015.33,"y":27.1},{"x":2015.37,"y":27.8},{"x":2015.41,"y":27.3},{"x":2015.45,"y":28.0},{"x":2015.49,"y":27.5},{"x":2015.53,"y":28.2},{"x":2015.57,"y":27.7},{"x":2015.61,"y":28.5},{"x":2015.65,"y":27.9},{"x":2015.69,"y":28.3},{"x":2015.73,"y":27.5},{"x":2015.77,"y":28.0},{"x":2015.81,"y":27.2},{"x":2015.85,"y":27.8},{"x":2015.89,"y":27.0},{"x":2015.93,"y":27.6},{"x":2015.97,"y":27.1},{"x":2016.01,"y":27.8},{"x":2016.05,"y":27.0},{"x":2016.09,"y":27.6},{"x":2016.13,"y":27.2},{"x":2016.17,"y":27.7},{"x":2016.21,"y":27.0},{"x":2016.25,"y":27.5},{"x":2016.29,"y":26.9},{"x":2016.33,"y":27.6},{"x":2016.37,"y":27.0},{"x":2016.41,"y":27.4},{"x":2016.45,"y":26.8},{"x":2016.49,"y":27.5},{"x":2016.52,"y":27.0},
{"x":2016.6,"y":28.0},{"x":2016.63,"y":27.5},{"x":2016.67,"y":28.2},{"x":2016.71,"y":27.4},{"x":2016.75,"y":27.9},{"x":2016.79,"y":27.2},{"x":2016.83,"y":27.7},{"x":2016.87,"y":27.1},{"x":2016.91,"y":27.6},{"x":2016.95,"y":27.0},{"x":2016.99,"y":27.5},{"x":2017.03,"y":27.0},{"x":2017.07,"y":27.7},{"x":2017.11,"y":27.2},{"x":2017.15,"y":27.8},{"x":2017.19,"y":27.3},{"x":2017.23,"y":27.6},{"x":2017.27,"y":27.0},{"x":2017.31,"y":27.4},{"x":2017.35,"y":26.7},{"x":2017.39,"y":27.2},{"x":2017.43,"y":26.6},{"x":2017.47,"y":27.1},{"x":2017.51,"y":26.7},
{"x":2017.64,"y":27.8},{"x":2017.67,"y":27.1},{"x":2017.7,"y":27.5},{"x":2017.73,"y":26.9},{"x":2017.76,"y":27.3},
{"x":2017.84,"y":28.3},{"x":2017.86,"y":27.6},{"x":2017.89,"y":27.2},{"x":2017.92,"y":26.8},{"x":2017.95,"y":26.3},{"x":2017.99,"y":26.7},{"x":2018.03,"y":26.0},{"x":2018.07,"y":26.5},{"x":2018.11,"y":25.9},{"x":2018.15,"y":26.4},{"x":2018.19,"y":25.8},{"x":2018.23,"y":26.5},{"x":2018.27,"y":26.0},{"x":2018.31,"y":26.6},{"x":2018.35,"y":26.1},{"x":2018.39,"y":26.8},{"x":2018.43,"y":26.2},{"x":2018.47,"y":26.9},{"x":2018.51,"y":26.3},{"x":2018.55,"y":26.8},{"x":2018.59,"y":27.2},{"x":2018.63,"y":26.7},{"x":2018.66,"y":28.2},{"x":2018.69,"y":27.5},{"x":2018.72,"y":27.9},{"x":2018.75,"y":27.1},{"x":2018.79,"y":26.6},{"x":2018.83,"y":27.2},{"x":2018.87,"y":26.6},{"x":2018.91,"y":27.1},{"x":2018.95,"y":26.5},{"x":2018.99,"y":27.0},{"x":2019.03,"y":26.6},{"x":2019.07,"y":27.2},{"x":2019.11,"y":26.5},{"x":2019.15,"y":27.0},{"x":2019.19,"y":26.3},{"x":2019.23,"y":26.8},{"x":2019.27,"y":26.2},{"x":2019.31,"y":26.7},{"x":2019.35,"y":26.3},{"x":2019.39,"y":26.9},{"x":2019.43,"y":26.4},{"x":2019.47,"y":27.0},{"x":2019.51,"y":26.5},{"x":2019.55,"y":27.1},{"x":2019.59,"y":26.6},{"x":2019.63,"y":27.0},{"x":2019.67,"y":26.2},{"x":2019.71,"y":26.7},{"x":2019.75,"y":26.0},{"x":2019.79,"y":26.6},{"x":2019.83,"y":26.1},{"x":2019.87,"y":26.7},{"x":2019.91,"y":26.3},{"x":2019.95,"y":26.9},{"x":2019.99,"y":26.5},{"x":2020.03,"y":27.1},{"x":2020.07,"y":26.6},{"x":2020.11,"y":27.2},{"x":2020.15,"y":26.5},{"x":2020.19,"y":27.0},{"x":2020.23,"y":26.4},{"x":2020.27,"y":26.9},{"x":2020.31,"y":26.3},{"x":2020.35,"y":26.7},{"x":2020.39,"y":26.0},{"x":2020.43,"y":26.5},{"x":2020.47,"y":26.1},{"x":2020.51,"y":26.8},{"x":2020.55,"y":26.6},{"x":2020.58,"y":27.2},{"x":2020.61,"y":27.0},{"x":2020.63,"y":27.6}
],
"bQ": [
{"x":2015.01,"y":19.6},{"x":2015.04,"y":18.8},{"x":2015.07,"y":19.3},{"x":2015.1,"y":18.6},{"x":2015.13,"y":19.2},{"x":2015.16,"y":18.7},{"x":2015.19,"y":19.4},{"x":2015.22,"y":18.9},
{"x":2015.38,"y":18.5},{"x":2015.41,"y":18.9},{"x":2015.45,"y":18.4},{"x":2015.49,"y":19.2},{"x":2015.53,"y":18.8},{"x":2015.57,"y":19.5},{"x":2015.61,"y":19.0},{"x":2015.65,"y":19.8},{"x":2015.69,"y":19.2},{"x":2015.73,"y":19.6},{"x":2015.77,"y":18.9},{"x":2015.81,"y":19.4},{"x":2015.85,"y":18.8},{"x":2015.89,"y":19.3},{"x":2015.93,"y":18.7},{"x":2015.97,"y":19.4},{"x":2016.01,"y":18.8},{"x":2016.05,"y":19.3},{"x":2016.09,"y":18.7},{"x":2016.13,"y":19.4},{"x":2016.17,"y":18.8},{"x":2016.21,"y":19.2},{"x":2016.25,"y":18.4},{"x":2016.29,"y":18.9},{"x":2016.33,"y":18.2},{"x":2016.37,"y":18.8},{"x":2016.41,"y":18.1},{"x":2016.45,"y":18.7},{"x":2016.49,"y":18.2},{"x":2016.53,"y":18.8},{"x":2016.57,"y":18.3},{"x":2016.61,"y":19.0},{"x":2016.65,"y":18.6},{"x":2016.69,"y":19.5},{"x":2016.73,"y":19.0},{"x":2016.77,"y":19.7},{"x":2016.81,"y":19.2},{"x":2016.85,"y":19.8},{"x":2016.89,"y":19.1},{"x":2016.93,"y":19.6},{"x":2016.97,"y":19.0},{"x":2017.01,"y":19.7},{"x":2017.05,"y":19.2},{"x":2017.09,"y":19.8},{"x":2017.13,"y":19.4},{"x":2017.17,"y":20.0},{"x":2017.2,"y":19.6},
{"x":2017.31,"y":19.8},{"x":2017.32,"y":19.0},{"x":2017.34,"y":18.2},{"x":2017.37,"y":17.9},{"x":2017.4,"y":18.4},{"x":2017.43,"y":17.9},{"x":2017.46,"y":18.6},{"x":2017.5,"y":18.2},{"x":2017.54,"y":18.8},{"x":2017.58,"y":18.4},{"x":2017.62,"y":19.1},{"x":2017.66,"y":18.7},{"x":2017.7,"y":19.4},{"x":2017.74,"y":18.9},{"x":2017.78,"y":19.6},{"x":2017.82,"y":19.2},{"x":2017.85,"y":20.7},{"x":2017.87,"y":20.1},{"x":2017.9,"y":19.5},{"x":2017.93,"y":19.9},{"x":2017.96,"y":19.0},{"x":2017.99,"y":19.5},{"x":2018.03,"y":19.1},{"x":2018.07,"y":19.8},{"x":2018.11,"y":19.4},{"x":2018.15,"y":20.0},{"x":2018.19,"y":19.6},{"x":2018.23,"y":20.1},{"x":2018.27,"y":19.5},{"x":2018.31,"y":19.2},{"x":2018.35,"y":18.7},{"x":2018.39,"y":19.0},{"x":2018.43,"y":18.3},{"x":2018.47,"y":18.6},{"x":2018.51,"y":17.8},{"x":2018.55,"y":18.1},{"x":2018.59,"y":17.4},{"x":2018.62,"y":17.8},{"x":2018.65,"y":18.7},{"x":2018.68,"y":18.2},{"x":2018.71,"y":17.7},{"x":2018.75,"y":18.1},{"x":2018.79,"y":17.4},{"x":2018.83,"y":17.8},{"x":2018.87,"y":17.2},{"x":2018.91,"y":17.6},{"x":2018.95,"y":17.1},{"x":2018.99,"y":17.6},{"x":2019.03,"y":17.2},{"x":2019.07,"y":17.8},{"x":2019.11,"y":17.4},{"x":2019.15,"y":18.0},{"x":2019.19,"y":17.7},{"x":2019.23,"y":18.6},{"x":2019.26,"y":18.1},{"x":2019.29,"y":17.6},{"x":2019.32,"y":17.0},{"x":2019.35,"y":16.7},{"x":2019.39,"y":16.3},{"x":2019.43,"y":16.8},{"x":2019.47,"y":16.4},{"x":2019.51,"y":16.9},{"x":2019.55,"y":16.3},{"x":2019.59,"y":16.8},{"x":2019.63,"y":16.5},{"x":2019.67,"y":17.1},{"x":2019.71,"y":16.6},{"x":2019.75,"y":16.9},{"x":2019.79,"y":16.2},{"x":2019.83,"y":16.0},{"x":2019.87,"y":15.7},{"x":2019.91,"y":16.4},{"x":2019.95,"y":16.8},{"x":2019.99,"y":16.3},{"x":2020.03,"y":16.9},{"x":2020.07,"y":16.4},{"x":2020.11,"y":16.8},{"x":2020.15,"y":16.3},{"x":2020.19,"y":16.9},{"x":2020.23,"y":16.2},{"x":2020.27,"y":16.6},{"x":2020.31,"y":15.9},{"x":2020.35,"y":16.3},{"x":2020.39,"y":15.6},{"x":2020.43,"y":15.1},{"x":2020.47,"y":15.5},{"x":2020.51,"y":14.9},{"x":2020.55,"y":15.4},{"x":2020.59,"y":14.9},{"x":2020.62,"y":15.5}
],
"bP": [
{"x":2015.01,"y":10.8},{"x":2015.04,"y":10.0},{"x":2015.07,"y":10.4},{"x":2015.1,"y":9.8},{"x":2015.13,"y":10.3},{"x":2015.16,"y":9.7},
{"x":2015.28,"y":10.1},{"x":2015.31,"y":9.4},{"x":2015.35,"y":9.9},{"x":2015.39,"y":9.3},{"x":2015.43,"y":9.8},{"x":2015.47,"y":9.2},{"x":2015.51,"y":9.9},{"x":2015.55,"y":9.4},{"x":2015.59,"y":10.0},{"x":2015.63,"y":9.3},{"x":2015.67,"y":9.9},{"x":2015.71,"y":9.3},{"x":2015.75,"y":9.8},{"x":2015.79,"y":9.2},{"x":2015.83,"y":9.8},{"x":2015.87,"y":9.1},{"x":2015.91,"y":9.7},{"x":2015.95,"y":9.2},{"x":2015.99,"y":9.8},{"x":2016.03,"y":9.1},{"x":2016.07,"y":9.7},{"x":2016.11,"y":9.2},{"x":2016.15,"y":9.8},{"x":2016.19,"y":9.1},{"x":2016.23,"y":9.6},{"x":2016.27,"y":9.0},{"x":2016.31,"y":9.6},{"x":2016.35,"y":8.9},{"x":2016.39,"y":9.5},{"x":2016.43,"y":8.9},{"x":2016.47,"y":9.4},{"x":2016.51,"y":8.9},{"x":2016.55,"y":9.6},{"x":2016.59,"y":9.2},{"x":2016.63,"y":9.8},{"x":2016.67,"y":9.4},{"x":2016.71,"y":10.0},{"x":2016.75,"y":9.6},{"x":2016.79,"y":10.3},{"x":2016.83,"y":9.9},{"x":2016.87,"y":10.5},{"x":2016.91,"y":10.1},{"x":2016.95,"y":10.7},{"x":2016.99,"y":10.3},{"x":2017.03,"y":10.8},{"x":2017.07,"y":10.4},{"x":2017.11,"y":10.9},
{"x":2017.33,"y":12.0},{"x":2017.35,"y":11.5},{"x":2017.38,"y":12.1},{"x":2017.41,"y":11.6},{"x":2017.44,"y":12.2},{"x":2017.48,"y":11.8},{"x":2017.52,"y":12.4},{"x":2017.56,"y":11.9},{"x":2017.6,"y":12.5},{"x":2017.64,"y":12.1},{"x":2017.68,"y":12.8},{"x":2017.72,"y":12.3},{"x":2017.76,"y":12.9},{"x":2017.8,"y":12.5},{"x":2017.84,"y":14.0},{"x":2017.86,"y":13.4},{"x":2017.89,"y":12.6},{"x":2017.92,"y":13.0},{"x":2017.95,"y":12.5},{"x":2017.98,"y":13.1},{"x":2018.02,"y":12.7},{"x":2018.06,"y":13.3},{"x":2018.1,"y":12.8},{"x":2018.14,"y":13.5},{"x":2018.18,"y":13.0},{"x":2018.22,"y":13.6},{"x":2018.26,"y":13.2},{"x":2018.3,"y":13.9},{"x":2018.34,"y":13.4},{"x":2018.38,"y":13.6},{"x":2018.42,"y":13.0},{"x":2018.46,"y":13.3},{"x":2018.5,"y":12.6},{"x":2018.54,"y":13.0},{"x":2018.58,"y":12.5},{"x":2018.62,"y":13.0},{"x":2018.65,"y":13.8},{"x":2018.68,"y":13.2},{"x":2018.71,"y":13.5},{"x":2018.75,"y":12.8},{"x":2018.79,"y":13.2},{"x":2018.83,"y":12.6},{"x":2018.87,"y":13.1},{"x":2018.91,"y":12.6},{"x":2018.95,"y":13.2},{"x":2018.99,"y":12.7},{"x":2019.03,"y":13.3},{"x":2019.07,"y":12.7},{"x":2019.11,"y":13.2},{"x":2019.15,"y":12.8},{"x":2019.19,"y":13.3},{"x":2019.23,"y":12.7},{"x":2019.27,"y":13.4},{"x":2019.31,"y":12.9},{"x":2019.35,"y":13.3},{"x":2019.39,"y":12.6},{"x":2019.43,"y":13.2},{"x":2019.47,"y":12.8},{"x":2019.51,"y":13.4},{"x":2019.55,"y":12.9},{"x":2019.59,"y":13.5},{"x":2019.63,"y":13.0},{"x":2019.67,"y":13.3},{"x":2019.71,"y":12.6},{"x":2019.75,"y":13.0},{"x":2019.79,"y":12.3},{"x":2019.83,"y":12.8},{"x":2019.87,"y":12.2},{"x":2019.91,"y":12.7},{"x":2019.95,"y":12.1},{"x":2019.99,"y":12.6},{"x":2020.03,"y":12.0},{"x":2020.07,"y":12.6},{"x":2020.11,"y":11.9},{"x":2020.15,"y":12.5},{"x":2020.19,"y":11.9},{"x":2020.23,"y":12.5},{"x":2020.27,"y":12.0},{"x":2020.31,"y":12.6},{"x":2020.35,"y":11.9},{"x":2020.39,"y":12.5},{"x":2020.43,"y":11.9},{"x":2020.47,"y":12.5},{"x":2020.51,"y":12.0},{"x":2020.55,"y":12.6},{"x":2020.59,"y":11.9},{"x":2020.63,"y":12.4}
],
"bO": [
{"s":"R","x":2015.0,"y":29.3},{"s":"R","x":2015.65,"y":31.0},{"s":"R","x":2015.65,"y":29.9},{"s":"R","x":2016.0,"y":29.4},{"s":"R","x":2016.35,"y":29.6},{"s":"R","x":2016.8,"y":29.6},{"s":"R","x":2017.24,"y":28.75},{"s":"R","x":2017.41,"y":29.1},{"s":"R","x":2018.2,"y":27.5},{"s":"R","x":2018.55,"y":28.1},{"s":"R","x":2019.58,"y":28.1},{"s":"R","x":2020.62,"y":28.6},
{"s":"Q","x":2015.0,"y":20.4},{"s":"Q","x":2015.65,"y":22.4},{"s":"Q","x":2015.65,"y":21.2},{"s":"Q","x":2016.0,"y":21.4},{"s":"Q","x":2016.35,"y":21.2},{"s":"Q","x":2016.8,"y":21.6},{"s":"Q","x":2017.41,"y":20.9},{"s":"Q","x":2018.2,"y":21.0},{"s":"Q","x":2018.3,"y":20.7},{"s":"Q","x":2018.54,"y":19.05},{"s":"Q","x":2019.6,"y":18.1},{"s":"Q","x":2020.62,"y":16.3},{"s":"Q","x":2016.58,"y":17.7},
{"s":"P","x":2015.0,"y":11.2},{"s":"P","x":2015.3,"y":11.2},{"s":"P","x":2015.65,"y":12.1},{"s":"P","x":2016.0,"y":11.5},{"s":"P","x":2016.35,"y":11.5},{"s":"P","x":2016.8,"y":11.9},{"s":"P","x":2017.41,"y":13.9},{"s":"P","x":2018.2,"y":14.4},{"s":"P","x":2018.3,"y":14.6},{"s":"P","x":2018.54,"y":13.8},{"s":"P","x":2019.6,"y":14.1},{"s":"P","x":2020.62,"y":13.45}
],
"bC": [
{"a":2015.0,"b":2015.05,"c":5},{"a":2015.05,"b":2015.085,"c":40},{"a":2015.085,"b":2015.13,"c":6},{"a":2015.13,"b":2015.16,"c":72},{"a":2015.16,"b":2015.3,"c":6},{"a":2015.3,"b":2015.5,"c":4},{"a":2015.5,"b":2015.8,"c":4},{"a":2015.8,"b":2016.0,"c":3},{"a":2016.0,"b":2016.18,"c":4},{"a":2016.18,"b":2016.22,"c":10},{"a":2016.22,"b":2016.28,"c":5},{"a":2016.28,"b":2016.31,"c":10},{"a":2016.31,"b":2016.6,"c":4},{"a":2016.6,"b":2017.0,"c":3},{"a":2017.0,"b":2017.28,"c":3},{"a":2017.32,"b":2017.4,"c":4},{"a":2017.4,"b":2017.43,"c":12},{"a":2017.43,"b":2017.75,"c":4},{"a":2017.75,"b":2018.14,"c":3},{"a":2018.19,"b":2018.285,"c":3},{"a":2018.285,"b":2018.32,"c":238},{"a":2018.32,"b":2018.36,"c":32},{"a":2018.36,"b":2018.4,"c":28},{"a":2018.4,"b":2018.47,"c":25},{"a":2018.47,"b":2018.52,"c":16},{"a":2018.52,"b":2018.55,"c":35},{"a":2018.55,"b":2018.62,"c":16},{"a":2018.62,"b":2018.65,"c":22},{"a":2018.65,"b":2018.735,"c":14},{"a":2018.735,"b":2018.755,"c":212},{"a":2018.755,"b":2018.8,"c":25},{"a":2018.8,"b":2018.83,"c":12},{"a":2018.83,"b":2018.86,"c":28},{"a":2018.86,"b":2019.0,"c":14},{"a":2019.0,"b":2019.1,"c":10},{"a":2019.1,"b":2019.36,"c":8},{"a":2019.36,"b":2019.39,"c":28},{"a":2019.39,"b":2019.55,"c":11},{"a":2019.55,"b":2019.8,"c":7},{"a":2019.8,"b":2020.0,"c":10},{"a":2020.0,"b":2020.23,"c":11},{"a":2020.23,"b":2020.26,"c":50},{"a":2020.26,"b":2020.32,"c":9},{"a":2020.32,"b":2020.345,"c":34},{"a":2020.345,"b":2020.4,"c":9},{"a":2020.4,"b":2020.43,"c":20},{"a":2020.43,"b":2020.5,"c":14},{"a":2020.5,"b":2020.64,"c":10}
]
},
"vconcat": [
{
"width": 1135, "height": 479,
"resolve": {"scale": {"y": "independent"}},
"layer": [
{"data": {"name": "tC"}, "mark": {"type": "rect", "color": "#000000", "stroke": "#000000", "strokeWidth": 1},
 "encoding": {
  "x": {"field": "a", "type": "quantitative", "title": "年", "scale": {"domain": [1990, 2020.68], "nice": false, "zero": false},
   "axis": {"values": [1990,1991,1992,1993,1994,1995,1996,1997,1998,1999,2000,2001,2002,2003,2004,2005,2006,2007,2008,2009,2010,2011,2012,2013,2014,2015,2016,2017,2018,2019,2020],
    "tickCount": 200, "format": "d", "labelExpr": "datum.value % 2 === 0 ? format(datum.value, 'd') : ''", "grid": true, "gridColor": "#ababab", "gridWidth": 1,
    "labelFont": "Noto Sans CJK JP", "labelFontSize": 19, "labelColor": "#222222", "labelPadding": 9, "labelFlush": false, "labelOverlap": false,
    "tickSize": 5, "tickColor": "#555555", "title": "年", "titleFont": "Noto Sans CJK JP", "titleFontSize": 19, "titleFontWeight": "normal", "titleColor": "#222222", "titlePadding": 3}},
  "x2": {"field": "b"},
  "y": {"field": "c", "type": "quantitative", "scale": {"domain": [0, 2200], "nice": false, "zero": false}, "axis": null},
  "y2": {"datum": 0}}},
{"layer": [
 {"data": {"name": "tL"}, "mark": {"type": "line", "color": "#000000", "strokeWidth": 12, "strokeCap": "round", "strokeJoin": "round"},
  "encoding": {
   "x": {"field": "x", "type": "quantitative", "title": "年", "scale": {"domain": [1990, 2020.68], "nice": false, "zero": false}},
   "y": {"field": "y", "type": "quantitative", "scale": {"domain": [0, 110], "nice": false, "zero": false},
    "axis": {"values": [0,5,10,15,20,25,30,35,40,45,50,55,60,65,70,75,80,85,90,95,100,105,110], "tickCount": 200, "grid": true,
     "gridColor": {"condition": {"test": "datum.value % 10 === 0", "value": "#111111"}, "value": "#c6c6c6"},
     "labels": false, "ticks": false, "domain": false, "title": null}},
   "detail": {"field": "g", "type": "nominal"}}},
 {"data": {"name": "tO"}, "mark": {"type": "point", "filled": true, "color": "#000000", "size": 36, "opacity": 1},
  "encoding": {
   "x": {"field": "x", "type": "quantitative"},
   "y": {"field": "y", "type": "quantitative"},
   "shape": {"field": "s", "type": "nominal", "scale": {"domain": ["R","Q","P","N"], "range": ["circle","triangle-up","square","square"]}, "legend": null}}},
 {"data": {"values": [{"x": 2012.63, "y": 90.6, "x2": 2012.84, "y2": 79.5}, {"x": 1998.47, "y": 32.0, "x2": 1998.78, "y2": 15.0}]},
  "mark": {"type": "rule", "color": "#000000", "strokeWidth": 3, "strokeDash": [2, 3]},
  "encoding": {"x": {"field": "x", "type": "quantitative"}, "y": {"field": "y", "type": "quantitative"}, "x2": {"field": "x2"}, "y2": {"field": "y2"}}},
 {"data": {"values": [{"x": 2015.05, "y": -10.3, "x2": 1990.0, "y2": -25.9}, {"x": 2020.68, "y": -8.7, "x2": 2020.41, "y2": -25.9}]},
  "mark": {"type": "rule", "color": "#000000", "strokeWidth": 3.5, "strokeDash": [4, 4]},
  "encoding": {"x": {"field": "x", "type": "quantitative"}, "y": {"field": "y", "type": "quantitative"}, "x2": {"field": "x2"}, "y2": {"field": "y2"}}},
 {"data": {"values": [{"x": 1998.32, "x2": 1999.95, "y": 8.7, "y2": 33.1}, {"x": 2012.59, "x2": 2013.3, "y": 60.6, "y2": 100.8}]},
  "mark": {"type": "rect", "filled": false, "color": "#1b6fbe", "strokeWidth": 4},
  "encoding": {"x": {"field": "x", "type": "quantitative"}, "x2": {"field": "x2"}, "y": {"field": "y", "type": "quantitative"}, "y2": {"field": "y2"}}},
 {"data": {"values": [{"x": 1990.46, "y": 60.5, "y2": 69.7}, {"x": 2020.89, "y": 0.5, "y2": 9.6}]},
  "mark": {"type": "rule", "color": "#000000", "strokeWidth": 1.5},
  "encoding": {"x": {"field": "x", "type": "quantitative"}, "y": {"field": "y", "type": "quantitative"}, "y2": {"field": "y2"}}},
 {"data": {"values": [{"x": 1990.46, "y": 69.3}, {"x": 2020.89, "y": 9.2}]},
  "mark": {"type": "point", "shape": "triangle-up", "filled": true, "color": "#000000", "size": 45, "opacity": 1},
  "encoding": {"x": {"field": "x", "type": "quantitative"}, "y": {"field": "y", "type": "quantitative"}}},
 {"data": {"values": [{"x": 1990.46, "y": 60.9}, {"x": 2020.89, "y": 0.8}]},
  "mark": {"type": "point", "shape": "triangle-down", "filled": true, "color": "#000000", "size": 45, "opacity": 1},
  "encoding": {"x": {"field": "x", "type": "quantitative"}, "y": {"field": "y", "type": "quantitative"}}},
 {"data": {"values": [{"x": 1997.27, "y": 23.2, "t": "※1"}, {"x": 2014.03, "y": 89.8, "t": "※2"}]},
  "mark": {"type": "text", "align": "center", "baseline": "middle", "font": "Noto Sans CJK JP", "fontSize": 25, "color": "#9a9a9a"},
  "encoding": {"x": {"field": "x", "type": "quantitative"}, "y": {"field": "y", "type": "quantitative"}, "text": {"field": "t"}}},
 {"data": {"values": [{"x": 2008.92, "y": 27.8, "t": "Ｐ－Ｙ"}, {"x": 2008.92, "y": 22.1, "t": "（2012年5月終了）"}]},
  "mark": {"type": "text", "align": "center", "baseline": "middle", "font": "Noto Sans CJK JP", "fontSize": 17, "color": "#333333"},
  "encoding": {"x": {"field": "x", "type": "quantitative"}, "y": {"field": "y", "type": "quantitative"}, "text": {"field": "t"}}},
 {"data": {"values": [{"x": 2021.3, "y": 78.1, "t": "Ｒ－Ｙ"}, {"x": 2021.3, "y": 64.5, "t": "Ｑ－Ｙ"}, {"x": 2021.11, "y": 42.0, "t": "新Ｐ－Ｙ"}, {"x": 2021.22, "y": 4.8, "t": "200回／月"}, {"x": 1991.03, "y": 64.3, "t": "10nT"}]},
  "mark": {"type": "text", "align": "left", "baseline": "middle", "font": "Noto Sans CJK JP", "fontSize": 19, "color": "#222222"},
  "encoding": {"x": {"field": "x", "type": "quantitative"}, "y": {"field": "y", "type": "quantitative"}, "text": {"field": "t"}}}
]}
]
},
{
"width": 1125, "height": 643,
"resolve": {"scale": {"y": "independent"}},
"layer": [
{"data": {"name": "bC"}, "mark": {"type": "rect", "color": "#000000", "stroke": "#000000", "strokeWidth": 1},
 "encoding": {
  "x": {"field": "a", "type": "quantitative", "title": "年", "scale": {"domain": [2015, 2020.64], "nice": false, "zero": false},
   "axis": {"values": [2015,2015.0833,2015.1667,2015.25,2015.3333,2015.4167,2015.5,2015.5833,2015.6667,2015.75,2015.8333,2015.9167,2016,2016.0833,2016.1667,2016.25,2016.3333,2016.4167,2016.5,2016.5833,2016.6667,2016.75,2016.8333,2016.9167,2017,2017.0833,2017.1667,2017.25,2017.3333,2017.4167,2017.5,2017.5833,2017.6667,2017.75,2017.8333,2017.9167,2018,2018.0833,2018.1667,2018.25,2018.3333,2018.4167,2018.5,2018.5833,2018.6667,2018.75,2018.8333,2018.9167,2019,2019.0833,2019.1667,2019.25,2019.3333,2019.4167,2019.5,2019.5833,2019.6667,2019.75,2019.8333,2019.9167,2020,2020.0833,2020.1667,2020.25,2020.3333,2020.4167,2020.5,2020.5833],
    "tickCount": 500, "labelExpr": "abs(datum.value - round(datum.value)) < 0.001 ? format(datum.value, 'd') : ''", "grid": true,
    "gridOpacity": {"condition": {"test": "abs(datum.value - round(datum.value)) < 0.001", "value": 1}, "value": 0},
    "gridColor": "#9a9a9a", "gridWidth": 1,
    "labelFont": "Liberation Sans", "labelFontWeight": "bold", "labelFontSize": 19, "labelColor": "#222222", "labelPadding": 9, "labelFlush": false, "labelOverlap": false,
    "tickSize": 4, "tickColor": "#555555", "title": "年", "titleFont": "Noto Sans CJK JP", "titleFontSize": 19, "titleFontWeight": "normal", "titleColor": "#222222", "titlePadding": 6}},
  "x2": {"field": "b"},
  "y": {"field": "c", "type": "quantitative", "scale": {"domain": [0, 700], "nice": false, "zero": false}, "axis": null},
  "y2": {"datum": 0}}},
{"layer": [
 {"data": {"name": "bL"}, "mark": {"type": "line", "color": "#000000", "strokeWidth": 10, "strokeCap": "round", "strokeJoin": "round"},
  "encoding": {
   "x": {"field": "x", "type": "quantitative", "title": "年", "scale": {"domain": [2015, 2020.64], "nice": false, "zero": false}},
   "y": {"field": "y", "type": "quantitative", "scale": {"domain": [0, 35], "nice": false, "zero": false},
    "axis": {"values": [0,1,2,3,4,5,6,7,8,9,10,11,12,13,14,15,16,17,18,19,20,21,22,23,24,25,26,27,28,29,30,31,32,33,34,35], "tickCount": 200, "grid": true,
     "gridColor": {"condition": {"test": "datum.value % 5 === 0", "value": "#111111"}, "value": "#c6c6c6"},
     "labels": false, "ticks": false, "domain": false, "title": null}},
   "detail": {"field": "g", "type": "nominal"}}},
 {"data": {"name": "bR"}, "mark": {"type": "point", "shape": "circle", "filled": true, "color": "#000000", "size": 34, "opacity": 1},
  "encoding": {"x": {"field": "x", "type": "quantitative"}, "y": {"field": "y", "type": "quantitative"}}},
 {"data": {"name": "bQ"}, "mark": {"type": "point", "shape": "triangle-up", "filled": true, "color": "#000000", "size": 28, "opacity": 1},
  "encoding": {"x": {"field": "x", "type": "quantitative"}, "y": {"field": "y", "type": "quantitative"}}},
 {"data": {"name": "bP"}, "mark": {"type": "point", "shape": "square", "filled": true, "color": "#000000", "size": 28, "opacity": 1},
  "encoding": {"x": {"field": "x", "type": "quantitative"}, "y": {"field": "y", "type": "quantitative"}}},
 {"data": {"name": "bO"}, "mark": {"type": "point", "filled": true, "color": "#000000", "size": 28, "opacity": 1},
  "encoding": {
   "x": {"field": "x", "type": "quantitative"},
   "y": {"field": "y", "type": "quantitative"},
   "shape": {"field": "s", "type": "nominal", "scale": {"domain": ["R","Q","P"], "range": ["circle","triangle-up","square"]}, "legend": null}}},
 {"data": {"values": [{"x": 2017.29, "x2": 2017.43, "y": 16.4, "y2": 21.5}, {"x": 2017.84, "x2": 2018.0, "y": 11.6, "y2": 30.1}, {"x": 2018.65, "x2": 2018.83, "y": 11.5, "y2": 29.8}, {"x": 2019.21, "x2": 2019.44, "y": 15.9, "y2": 19.9}]},
  "mark": {"type": "rect", "filled": false, "color": "#1b6fbe", "strokeWidth": 4},
  "encoding": {"x": {"field": "x", "type": "quantitative"}, "x2": {"field": "x2"}, "y": {"field": "y", "type": "quantitative"}, "y2": {"field": "y2"}}},
 {"data": {"values": [{"x": 2018.26, "y": 28.1, "x2": 2018.57, "y2": 29.0}, {"x": 2018.24, "y": 21.9, "x2": 2018.55, "y2": 20.25}, {"x": 2018.24, "y": 15.8, "x2": 2018.56, "y2": 14.35}]},
  "mark": {"type": "rule", "color": "#e8202a", "strokeWidth": 4},
  "encoding": {"x": {"field": "x", "type": "quantitative"}, "y": {"field": "y", "type": "quantitative"}, "x2": {"field": "x2"}, "y2": {"field": "y2"}}},
 {"data": {"values": [{"x": 2018.585, "y": 29.05}]},
  "mark": {"type": "point", "shape": "triangle-up", "angle": 75, "filled": true, "color": "#e8202a", "size": 170, "opacity": 1},
  "encoding": {"x": {"field": "x", "type": "quantitative"}, "y": {"field": "y", "type": "quantitative"}}},
 {"data": {"values": [{"x": 2018.565, "y": 20.15}]},
  "mark": {"type": "point", "shape": "triangle-up", "angle": 115, "filled": true, "color": "#e8202a", "size": 170, "opacity": 1},
  "encoding": {"x": {"field": "x", "type": "quantitative"}, "y": {"field": "y", "type": "quantitative"}}},
 {"data": {"values": [{"x": 2018.575, "y": 14.28}]},
  "mark": {"type": "point", "shape": "triangle-up", "angle": 113, "filled": true, "color": "#e8202a", "size": 170, "opacity": 1},
  "encoding": {"x": {"field": "x", "type": "quantitative"}, "y": {"field": "y", "type": "quantitative"}}},
 {"data": {"values": [{"x": 2018.695, "x2": 2018.795, "y": 7.7, "y2": 8.25}]},
  "mark": {"type": "rect", "color": "#ffffff"},
  "encoding": {"x": {"field": "x", "type": "quantitative"}, "x2": {"field": "x2"}, "y": {"field": "y", "type": "quantitative"}, "y2": {"field": "y2"}}},
 {"data": {"values": [{"x": 2018.665, "y": 8.2, "x2": 2018.81, "y2": 8.35}, {"x": 2018.665, "y": 7.6, "x2": 2018.81, "y2": 7.75}]},
  "mark": {"type": "rule", "color": "#000000", "strokeWidth": 2.5},
  "encoding": {"x": {"field": "x", "type": "quantitative"}, "y": {"field": "y", "type": "quantitative"}, "x2": {"field": "x2"}, "y2": {"field": "y2"}}},
 {"data": {"values": [{"x": 2019.15, "y": 8.76, "x2": 2018.9, "y2": 8.06}]},
  "mark": {"type": "rule", "color": "#000000", "strokeWidth": 1.3},
  "encoding": {"x": {"field": "x", "type": "quantitative"}, "y": {"field": "y", "type": "quantitative"}, "x2": {"field": "x2"}, "y2": {"field": "y2"}}},
 {"data": {"values": [{"x": 2018.89, "y": 8.03}]},
  "mark": {"type": "point", "shape": "triangle-up", "angle": 255, "filled": true, "color": "#000000", "size": 45, "opacity": 1},
  "encoding": {"x": {"field": "x", "type": "quantitative"}, "y": {"field": "y", "type": "quantitative"}}},
 {"data": {"values": [{"x": 2015.245, "y": 30.1, "y2": 34.8}, {"x": 2020.737, "y": 0.2, "y2": 4.8}]},
  "mark": {"type": "rule", "color": "#000000", "strokeWidth": 1.5},
  "encoding": {"x": {"field": "x", "type": "quantitative"}, "y": {"field": "y", "type": "quantitative"}, "y2": {"field": "y2"}}},
 {"data": {"values": [{"x": 2015.245, "y": 34.6}, {"x": 2020.737, "y": 4.6}]},
  "mark": {"type": "point", "shape": "triangle-up", "filled": true, "color": "#000000", "size": 45, "opacity": 1},
  "encoding": {"x": {"field": "x", "type": "quantitative"}, "y": {"field": "y", "type": "quantitative"}}},
 {"data": {"values": [{"x": 2015.245, "y": 30.3}, {"x": 2020.737, "y": 0.4}]},
  "mark": {"type": "point", "shape": "triangle-down", "filled": true, "color": "#000000", "size": 45, "opacity": 1},
  "encoding": {"x": {"field": "x", "type": "quantitative"}, "y": {"field": "y", "type": "quantitative"}}},
 {"data": {"values": [{"x": 2017.52, "y": 22.2, "t": "※3"}, {"x": 2018.15, "y": 31.7, "t": "※4"}, {"x": 2018.93, "y": 31.7, "t": "※ 5"}, {"x": 2019.53, "y": 21.1, "t": "※6"}]},
  "mark": {"type": "text", "align": "center", "baseline": "middle", "font": "Noto Sans CJK JP", "fontSize": 25, "color": "#9a9a9a"},
  "encoding": {"x": {"field": "x", "type": "quantitative"}, "y": {"field": "y", "type": "quantitative"}, "text": {"field": "t"}}},
 {"data": {"values": [{"x": 2019.22, "y": 8.4, "t": "324回(9月29日）"}]},
  "mark": {"type": "text", "align": "left", "baseline": "middle", "font": "Noto Sans CJK JP", "fontSize": 17, "color": "#333333"},
  "encoding": {"x": {"field": "x", "type": "quantitative"}, "y": {"field": "y", "type": "quantitative"}, "text": {"field": "t"}}},
 {"data": {"values": [{"x": 2020.78, "y": 25.3, "t": "Ｒ－Ｙ"}, {"x": 2020.75, "y": 15.1, "t": "Ｑ－Ｙ"}, {"x": 2020.75, "y": 11.6, "t": "新Ｐ－Ｙ"}, {"x": 2020.78, "y": 2.45, "t": "100回／日"}, {"x": 2015.316, "y": 32.4, "t": "5nT"}]},
  "mark": {"type": "text", "align": "left", "baseline": "middle", "font": "Noto Sans CJK JP", "fontSize": 19, "color": "#222222"},
  "encoding": {"x": {"field": "x", "type": "quantitative"}, "y": {"field": "y", "type": "quantitative"}, "text": {"field": "t"}}}
]}
]
}
]
}
